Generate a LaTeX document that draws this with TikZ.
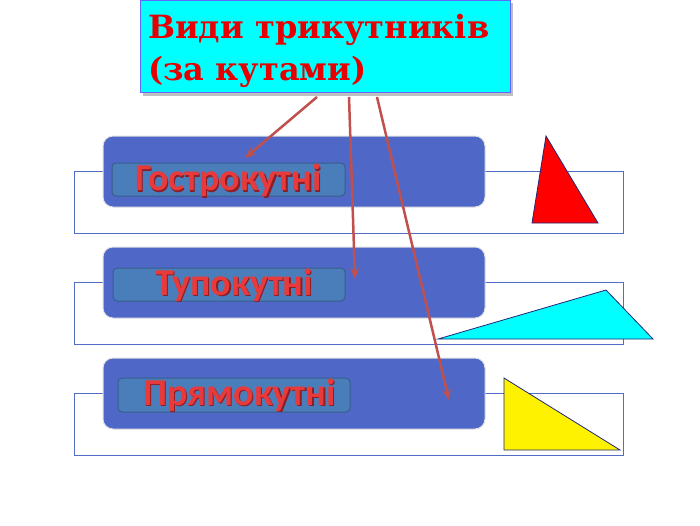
\documentclass[tikz,border=0pt]{standalone}
\usepackage{fontspec}
\usetikzlibrary{arrows.meta}
\newfontfamily\titlefont{DejaVu Serif}
\newfontfamily\labfont{Carlito}
\definecolor{titlecyan}{RGB}{0,255,255}
\definecolor{titlered}{RGB}{230,0,0}
\definecolor{bandblue}{RGB}{79,104,200}
\definecolor{labblue}{RGB}{74,126,187}
\definecolor{labedge}{RGB}{56,93,138}
\definecolor{outeredge}{RGB}{80,110,200}
\definecolor{arrowred}{RGB}{192,80,77}
\definecolor{labred}{RGB}{232,58,58}
\definecolor{labdark}{RGB}{140,30,40}
\definecolor{triedge}{RGB}{30,40,120}
\tikzset{
  outerbox/.style={draw=outeredge, line width=1pt, fill=white},
  bandbox/.style={draw=black!12, line width=1pt, fill=bandblue, rounded corners=10pt},
  labbox/.style={draw=labedge, line width=1pt, fill=labblue, rounded corners=4pt},
  labtext/.style={font=\labfont\bfseries\fontsize{38}{40}\selectfont, text=labred},
  labshadow/.style={font=\labfont\bfseries\fontsize{38}{40}\selectfont, text=labdark},
  titletext/.style={font=\titlefont\bfseries\fontsize{32}{36}\selectfont, text=titlered, inner sep=0pt, anchor=base west},
  pointer/.style={draw=arrowred, line width=2.5pt, -{Stealth[length=11pt,width=9pt]}},
  tri/.style={draw=triedge, line width=0.8pt}
}
\begin{document}
\begin{tikzpicture}[x=1pt,y=-1pt]
\useasboundingbox (0,0) rectangle (700,525);
% title
\fill[black!25] (143,3) rectangle (513,96);
\node[draw=blue!60, line width=0.8pt, fill=titlecyan, minimum width=370pt, minimum height=92pt, anchor=north west, inner sep=0pt] (title) at (140,0) {};
\node[titletext] (t1) at (148,38) {Види трикутників};
\node[titletext] (t2) at (148,80) {(за кутами)};
% rows
\foreach \y in {136, 247, 358}{
  \draw[outerbox] (74,\y+35) rectangle (623,\y+97);
  \draw[bandbox] (103,\y) rectangle (485,\y+71);
}
\draw[labbox] (112,163) rectangle (345,196);
\draw[labbox] (113,268) rectangle (345,301);
\draw[labbox] (118,378) rectangle (350,412);
\node[labshadow] at (229.8,181.8) {Гострокутні};
\node[labtext] (la) at (228.5,180.5) {Гострокутні};
\node[labshadow] at (235.3,286.3) {Тупокутні};
\node[labtext] (lb) at (234,285) {Тупокутні};
\node[labshadow] at (240.8,396.3) {Прямокутні};
\node[labtext] (lc) at (239.5,395) {Прямокутні};
% triangles
\draw[tri, fill=red] (546,136) -- (532,223) -- (598,223) -- cycle;
\draw[tri, fill=titlecyan] (438,339) -- (606,290) -- (653,339) -- cycle;
\draw[tri, fill=yellow] (504,378) -- (504,450) -- (620,450) -- cycle;
% arrows
\coordinate (s1) at (317,97);
\coordinate (s2) at (349,97);
\coordinate (s3) at (377,97);
\coordinate (e1) at (245,158);
\coordinate (e2) at (355,279);
\coordinate (e3) at (449,400);
\draw[pointer] (s1) -- (e1);
\draw[pointer] (s2) -- (e2);
\draw[pointer] (s3) -- (e3);
\end{tikzpicture}
\end{document}
